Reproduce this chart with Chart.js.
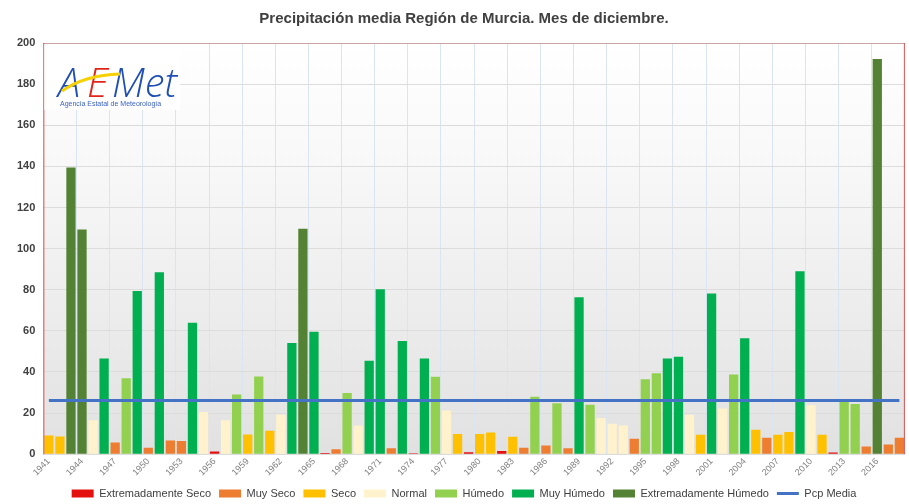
<!DOCTYPE html>
<html>
<head>
<meta charset="utf-8">
<script src="https://cdn.jsdelivr.net/npm/chart.js@4/dist/chart.umd.min.js"></script>
<style>
  body { margin: 0; background: #fff; }
  #wrap { width: 909px; height: 504px; }
</style>
</head>
<body>
<div id="wrap"><canvas id="pcpChart" width="909" height="504"></canvas></div>
<script>
// Precipitación media de diciembre, Región de Murcia (mm)

const years = [
    1941, 1942, 1943, 1944, 1945, 1946, 1947, 1948, 1949, 1950,
    1951, 1952, 1953, 1954, 1955, 1956, 1957, 1958, 1959, 1960,
    1961, 1962, 1963, 1964, 1965, 1966, 1967, 1968, 1969, 1970,
    1971, 1972, 1973, 1974, 1975, 1976, 1977, 1978, 1979, 1980,
    1981, 1982, 1983, 1984, 1985, 1986, 1987, 1988, 1989, 1990,
    1991, 1992, 1993, 1994, 1995, 1996, 1997, 1998, 1999, 2000,
    2001, 2002, 2003, 2004, 2005, 2006, 2007, 2008, 2009, 2010,
    2011, 2012, 2013, 2014, 2015, 2016, 2017, 2018
];

const precip = [
    9.1, 8.6, 139.5, 109.3, 16.5, 46.6, 5.7, 37.0, 79.4, 3.2,
    88.5, 6.7, 6.4, 63.9, 20.5, 1.3, 16.5, 29.0, 9.6, 37.8,
    11.4, 19.2, 54.1, 109.6, 59.5, 0.6, 2.4, 29.8, 14.0, 45.5,
    80.2, 2.9, 55.1, 0.5, 46.6, 37.7, 21.3, 9.8, 1.0, 9.8,
    10.6, 1.6, 8.5, 3.2, 27.9, 4.2, 24.8, 2.9, 76.3, 24.1,
    17.6, 14.8, 14.0, 7.5, 36.5, 39.4, 46.6, 47.4, 19.2, 9.5,
    78.2, 22.2, 38.8, 56.4, 11.9, 8.0, 9.5, 10.8, 89.0, 23.8,
    9.5, 0.8, 26.7, 24.4, 3.7, 192.2, 4.7, 8.0
];

// carácter del mes: 0 ES, 1 MS, 2 S, 3 N, 4 H, 5 MH, 6 EH
const caracter = [
    2, 2, 6, 6, 3, 5, 1, 4, 5, 1,
    5, 1, 1, 5, 3, 0, 3, 4, 2, 4,
    2, 3, 5, 6, 5, 0, 1, 4, 3, 5,
    5, 1, 5, 0, 5, 4, 3, 2, 0, 2,
    2, 0, 2, 1, 4, 1, 4, 1, 5, 4,
    3, 3, 3, 1, 4, 4, 5, 5, 3, 2,
    5, 3, 4, 5, 2, 1, 2, 2, 5, 3,
    2, 0, 4, 4, 1, 6, 1, 1
];

const classNames = ['Extremadamente Seco', 'Muy Seco', 'Seco', 'Normal', 'Húmedo', 'Muy Húmedo', 'Extremadamente Húmedo'];
const classColors = ['#e3100f', '#ed7d31', '#ffc000', '#fff2cc', '#92d050', '#00b050', '#548235'];

const pcpMedia = 26.1;

const barSets = classNames.map((name, c) => ({
    type: 'bar',
    label: name,
    data: precip.map((v, i) => caracter[i] === c ? v : null),
    backgroundColor: classColors[c],
    borderWidth: 0,
    grouped: false,
    categoryPercentage: 0.84,
    barPercentage: 1,
    pointStyle: 'rect',
    order: 1
}));

const mediaSet = {
    type: 'line',
    label: 'Pcp Media',
    data: years.map(() => pcpMedia),
    borderColor: '#4472c4',
    backgroundColor: '#4472c4',
    borderWidth: 3,
    pointRadius: 0,
    pointStyle: 'line',
    order: 0
};

const plotBackground = {
    id: 'plotBackground',
    beforeDraw(chart) {
        const { ctx, chartArea: a } = chart;
        const g = ctx.createLinearGradient(0, a.top, 0, a.bottom);
        g.addColorStop(0, '#ffffff');
        g.addColorStop(0.3, '#f8f8f8');
        g.addColorStop(1, '#e1e1e1');
        ctx.save();
        ctx.fillStyle = g;
        ctx.fillRect(a.left, a.top, a.right - a.left, a.bottom - a.top);
        ctx.restore();
    },
    afterDraw(chart) {
        const { ctx, chartArea: a } = chart;
        ctx.save();
        ctx.lineWidth = 1;
        ctx.strokeStyle = '#c9a4a4';
        ctx.beginPath();
        ctx.moveTo(a.left, a.top + 0.5);
        ctx.lineTo(a.right, a.top + 0.5);
        ctx.stroke();
        ctx.strokeStyle = '#d9534f';
        ctx.beginPath();
        ctx.moveTo(a.left + 0.5, a.top);
        ctx.lineTo(a.left + 0.5, a.bottom);
        ctx.moveTo(a.right - 0.5, a.top);
        ctx.lineTo(a.right - 0.5, a.bottom);
        ctx.stroke();
        ctx.restore();
    }
};

const aemetLogo = {
    id: 'aemetLogo',
    afterDraw(chart) {
        const { ctx, chartArea: a } = chart;
        ctx.save();
        ctx.fillStyle = '#ffffff';
        ctx.fillRect(a.left + 1, a.top + 1, 136, 66);
        ctx.textBaseline = 'alphabetic';
        ctx.font = 'italic 300 40px "Open Sans"';
        ctx.fillStyle = '#1f4fb4';
        ctx.fillText('A', 58, 97);
        ctx.fillStyle = '#e0261b';
        ctx.fillText('E', 87, 97);
        ctx.fillStyle = '#1f4fb4';
        ctx.fillText('Met', 112, 97);
        // trazo amarillo
        ctx.strokeStyle = '#f6d000';
        ctx.lineWidth = 3;
        ctx.beginPath();
        ctx.moveTo(62, 91);
        ctx.quadraticCurveTo(85, 75, 120, 74);
        ctx.stroke();
        ctx.font = '7px "Liberation Sans"';
        ctx.fillStyle = '#3a62c4';
        ctx.fillText('Agencia Estatal de Meteorología', 60, 106);
        ctx.restore();
    }
};

function createPrecipChart() {
    const ctx = document.getElementById('pcpChart').getContext('2d');
    return new Chart(ctx, {
        data: {
            labels: years,
            datasets: [...barSets, mediaSet]
        },
        options: {
            responsive: false,
            animation: false,
            layout: { padding: { left: 9, right: -10, top: 0, bottom: -5 } },
            plugins: {
                title: {
                    display: true,
                    text: 'Precipitación media Región de Murcia. Mes de diciembre.',
                    color: '#404040',
                    font: { family: 'Liberation Sans', size: 15, weight: 'bold' },
                    padding: { top: 10, bottom: 15 }
                },
                legend: {
                    position: 'bottom',
                    labels: {
                        usePointStyle: true,
                        pointStyleWidth: 22,
                        boxWidth: 22,
                        boxHeight: 8,
                        padding: 8,
                        color: '#404040',
                        font: { family: 'Liberation Sans', size: 11 },
                        sort: (p, q) => p.datasetIndex - q.datasetIndex
                    }
                },
                tooltip: { enabled: false }
            },
            scales: {
                x: {
                    offset: true,
                    grid: {
                        offset: true,
                        drawTicks: false,
                        color: c => c.index % 3 === 0 ? '#dbe5f1' : 'rgba(0,0,0,0)'
                    },
                    border: { display: false },
                    ticks: {
                        autoSkip: false,
                        minRotation: 45,
                        maxRotation: 45,
                        padding: 2,
                        color: '#7f7f7f',
                        font: { family: 'Liberation Sans', size: 9 },
                        callback: (v, i) => i % 3 === 0 ? years[i] : ''
                    }
                },
                y: {
                    min: 0,
                    max: 200,
                    grid: { color: '#dcdcdc', drawTicks: false },
                    border: { display: false },
                    ticks: {
                        stepSize: 20,
                        padding: 8,
                        color: '#404040',
                        font: { family: 'Liberation Sans', size: 11, weight: 'bold' }
                    }
                }
            }
        },
        plugins: [plotBackground, aemetLogo]
    });
}

createPrecipChart();
</script>
</body>
</html>
